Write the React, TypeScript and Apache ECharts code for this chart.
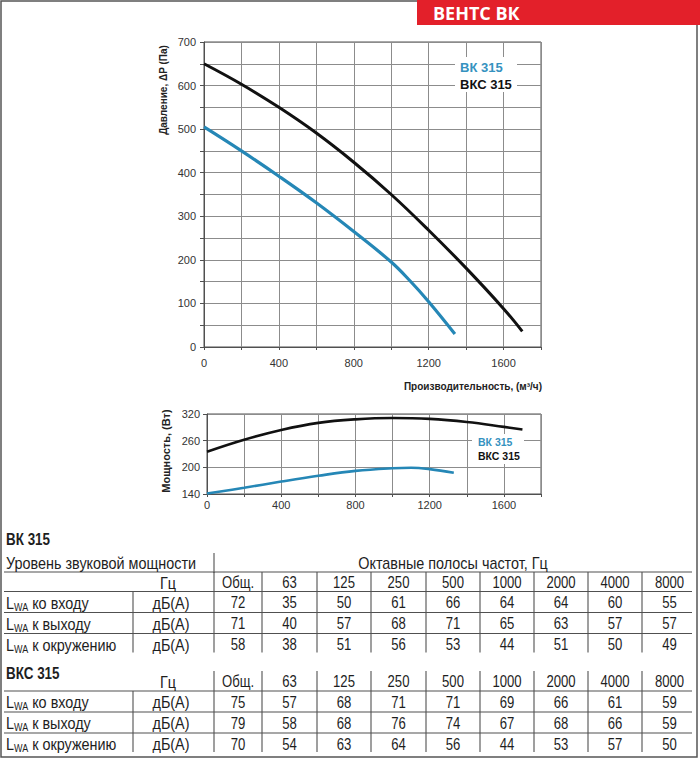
import React, { useEffect, useRef } from 'react';
import * as echarts from 'echarts';

// ---------- data ----------
const flowBKPressure = [0, 200, 400, 600, 800, 1000, 1100, 1200, 1340];
const bkPressure = [505, 450, 392, 331, 265, 195, 152, 104, 30];
const flowBKCPressure = [0, 200, 400, 600, 800, 1000, 1200, 1400, 1600, 1700];
const bkcPressure = [650, 603, 550, 491, 424, 350, 268, 181, 88, 36];

const flowBKPower = [0, 200, 400, 600, 800, 1000, 1100, 1200, 1330];
const bkPower = [141, 154, 168, 181, 192, 198, 199, 196, 188];
const flowBKCPower = [0, 200, 400, 600, 800, 1000, 1200, 1400, 1600, 1700];
const bkcPower = [235, 262, 284, 300, 308, 311, 309, 302, 291, 285];

const seriesNames = ['ВК 315', 'ВКС 315'];
const bands = ['Общ.', '63', '125', '250', '500', '1000', '2000', '4000', '8000'];
const rowLabels = ['ко входу', 'к выходу', 'к окружению'];
const bkSound = [
  [72, 35, 50, 61, 66, 64, 64, 60, 55],
  [71, 40, 57, 68, 71, 65, 63, 57, 57],
  [58, 38, 51, 56, 53, 44, 51, 50, 49],
];
const bkcSound = [
  [75, 57, 68, 71, 71, 69, 66, 61, 59],
  [79, 58, 68, 76, 74, 67, 68, 66, 59],
  [70, 54, 63, 64, 56, 44, 53, 57, 50],
];

// ---------- styles ----------
const BLUE = '#2587b6';
const BLUE_TXT = '#3592c0';
const CHART_FONT = '"Liberation Sans", Arial, sans-serif';
const TABLE_FONT = '"Liberation Sans", Arial, sans-serif';
const NARROW = 0.82;
const NARROW_CYR = 0.9;
const LINE = '#505050';
const GRIDLINE = '#8c8c8c';

const colBounds = [214, 262, 317, 371, 426, 480, 534, 588, 642, 697];

const zip = (xs: number[], ys: number[]) => xs.map((x, i) => [x, ys[i]]);

function ln(x1: number, y1: number, x2: number, y2: number, w = 1.1) {
  return { type: 'line', silent: true, shape: { x1, y1, x2, y2 }, style: { stroke: LINE, lineWidth: w }, z: 40 };
}
function tx(text: string, x: number, y: number, opts: any = {}) {
  const sx = opts.scaleX != null ? opts.scaleX : 1;
  return {
    type: 'text',
    silent: true,
    x,
    y,
    scaleX: sx,
    style: {
      text,
      fill: opts.fill || '#1e1e1e',
      font: `${opts.weight || 'normal'} ${opts.size || 16}px ${opts.family || TABLE_FONT}`,
      align: opts.align || 'left',
      verticalAlign: 'middle',
      ...(opts.rich ? { rich: opts.rich } : {}),
    },
    rotation: opts.rotation || 0,
    z: 50,
  };
}
const tt = (text: string, x: number, y: number, opts: any = {}) => tx(text, x, y, { scaleX: NARROW, ...opts });
const tc = (text: string, x: number, y: number, opts: any = {}) => tx(text, x, y, { scaleX: NARROW_CYR, ...opts });

function tableBlock(values: number[][], hzTop: number, hzBottom: number, rowH: number) {
  const els: any[] = [];
  const hzMid = (hzTop + hzBottom) / 2 + 1;
  const dataBottom = hzBottom + rowH * values.length;
  els.push(tc('Гц', 168, hzMid, { align: 'center' }));
  bands.forEach((b, i) => {
    els.push(tt(b, (colBounds[i] + colBounds[i + 1]) / 2, hzMid, { align: 'center' }));
  });
  for (let i = 0; i < colBounds.length - 1; i++) {
    els.push(ln(colBounds[i], hzTop, colBounds[i], dataBottom - 2));
  }
  els.push(ln(133, hzBottom, 133, dataBottom - 2));
  els.push(ln(4, hzBottom, 692, hzBottom));
  for (let r = 0; r < values.length - 1; r++) {
    const y = hzBottom + rowH * (r + 1);
    els.push(ln(4, y, 692, y));
  }
  values.forEach((row, r) => {
    const yc = hzBottom + rowH * r + rowH / 2 + 1;
    els.push(
      tc(`{m|L}{s|WA}{m| ${rowLabels[r]}}`, 6, yc, {
        rich: {
          m: { fontSize: 16, fontFamily: TABLE_FONT, fill: '#1e1e1e', lineHeight: 20, verticalAlign: 'middle' },
          s: { fontSize: 10, fontFamily: TABLE_FONT, fill: '#1e1e1e', lineHeight: 10, verticalAlign: 'bottom', padding: [0, 0, 1, 0] },
        },
      })
    );
    els.push(tc('дБ(А)', 171, yc, { align: 'center' }));
    row.forEach((v, i) => {
      els.push(tt(String(v), (colBounds[i] + colBounds[i + 1]) / 2, yc, { align: 'center' }));
    });
  });
  return els;
}

function buildGraphic() {
  const els: any[] = [];
  els.push({ type: 'rect', silent: true, shape: { x: 1, y: 1, width: 696, height: 756 }, style: { fill: 'none', stroke: '#555', lineWidth: 1.5 }, z: 40 });
  els.push({ type: 'rect', silent: true, shape: { x: 417, y: 0, width: 283, height: 25 }, style: { fill: '#e3202a' }, z: 45 });
  els.push(tx('ВЕНТС ВК', 433, 13, { fill: '#fff', weight: 'bold', size: 18, family: '"Open Sans", sans-serif' }));

  els.push(tx('Давление, ΔP (Па)', 163, 90, { weight: 'bold', size: 10, family: CHART_FONT, rotation: Math.PI / 2, align: 'center', fill: '#222' }));
  els.push(tx('Производительность, (м³/ч)', 542, 386, { weight: 'bold', size: 10, family: CHART_FONT, align: 'right', fill: '#222' }));
  els.push(tx('Мощность, (Вт)', 166, 451, { weight: 'bold', size: 11, family: CHART_FONT, rotation: Math.PI / 2, align: 'center', fill: '#222' }));

  els.push({ type: 'rect', silent: true, shape: { x: 455, y: 57, width: 62, height: 35 }, style: { fill: '#fff' }, z: 45 });
  els.push(tx(seriesNames[0], 460, 67, { weight: 'bold', size: 13, family: CHART_FONT, fill: BLUE_TXT }));
  els.push(tx(seriesNames[1], 460, 84, { weight: 'bold', size: 13, family: CHART_FONT, fill: '#111' }));
  els.push({ type: 'rect', silent: true, shape: { x: 472, y: 434, width: 52, height: 30 }, style: { fill: '#fff' }, z: 45 });
  els.push(tx(seriesNames[0], 478, 442, { weight: 'bold', size: 10.5, family: CHART_FONT, fill: BLUE_TXT }));
  els.push(tx(seriesNames[1], 478, 456, { weight: 'bold', size: 10.5, family: CHART_FONT, fill: '#111' }));

  els.push(tx('ВК 315', 6, 540, { weight: 'bold', size: 16, scaleX: 0.84 }));
  els.push(tc('Уровень звуковой мощности', 6, 563, {}));
  els.push(tc('Октавные полосы частот, Гц', 453, 563, { align: 'center' }));
  els.push(ln(214, 553, 214, 573));
  els.push(ln(4, 572, 692, 572));
  els.push(...tableBlock(bkSound, 572, 591.5, 21));

  els.push(tx('ВКС 315', 6, 674, { weight: 'bold', size: 16, scaleX: 0.84 }));
  els.push(...tableBlock(bkcSound, 671, 691, 21));
  return els;
}

function xAxisCfg(gridIndex: number, margin: number, size: number) {
  return {
    type: 'value',
    gridIndex,
    min: 0,
    max: 1800,
    interval: 200,
    axisLine: { show: true, lineStyle: { color: LINE, width: 1 } },
    axisTick: { show: true, length: 3, lineStyle: { color: LINE } },
    axisLabel: {
      formatter: (v: number) => (v % 400 === 0 && v < 1800 ? String(v) : ''),
      color: '#333',
      fontSize: size,
      fontFamily: CHART_FONT,
      margin,
    },
    splitLine: { show: true, lineStyle: { color: GRIDLINE, width: 1 } },
  };
}

export default function App() {
  const ref = useRef<HTMLDivElement>(null);
  useEffect(() => {
    if (!ref.current) return;
    const chart = echarts.init(ref.current, null, { renderer: 'svg' });
    chart.setOption({
      animation: false,
      backgroundColor: '#fff',
      grid: [
        { left: 204, top: 42, width: 337, height: 305, show: true, borderColor: LINE, borderWidth: 1, backgroundColor: 'transparent' },
        { left: 207, top: 414, width: 334, height: 80, show: true, borderColor: LINE, borderWidth: 1, backgroundColor: 'transparent' },
      ],
      xAxis: [xAxisCfg(0, 10, 11), xAxisCfg(1, 5, 11)],
      yAxis: [
        {
          type: 'value',
          gridIndex: 0,
          min: 0,
          max: 700,
          interval: 50,
          axisLine: { show: true, lineStyle: { color: LINE } },
          axisTick: { show: true, length: 4, lineStyle: { color: LINE } },
          axisLabel: {
            formatter: (v: number) => (v % 100 === 0 ? String(v) : ''),
            color: '#333',
            fontSize: 11,
            fontFamily: CHART_FONT,
            margin: 8,
          },
          splitLine: { show: true, lineStyle: { color: GRIDLINE, width: 1 } },
        },
        {
          type: 'value',
          gridIndex: 1,
          min: 140,
          max: 320,
          interval: 60,
          axisLine: { show: true, lineStyle: { color: LINE } },
          axisTick: { show: true, length: 4, lineStyle: { color: LINE } },
          axisLabel: { color: '#333', fontSize: 11, fontFamily: CHART_FONT, margin: 7 },
          splitLine: { show: true, lineStyle: { color: GRIDLINE, width: 1 } },
        },
      ],
      series: [
        {
          name: seriesNames[0], type: 'line', xAxisIndex: 0, yAxisIndex: 0, smooth: 0.4, showSymbol: false,
          data: zip(flowBKPressure, bkPressure), lineStyle: { color: BLUE, width: 3.2 }, itemStyle: { color: BLUE }, z: 5,
        },
        {
          name: seriesNames[1], type: 'line', xAxisIndex: 0, yAxisIndex: 0, smooth: 0.4, showSymbol: false,
          data: zip(flowBKCPressure, bkcPressure), lineStyle: { color: '#111', width: 3 }, itemStyle: { color: '#111' }, z: 5,
        },
        {
          name: seriesNames[0], type: 'line', xAxisIndex: 1, yAxisIndex: 1, smooth: 0.4, showSymbol: false,
          data: zip(flowBKPower, bkPower), lineStyle: { color: BLUE, width: 2.6 }, itemStyle: { color: BLUE }, z: 5,
        },
        {
          name: seriesNames[1], type: 'line', xAxisIndex: 1, yAxisIndex: 1, smooth: 0.4, showSymbol: false,
          data: zip(flowBKCPower, bkcPower), lineStyle: { color: '#111', width: 2.6 }, itemStyle: { color: '#111' }, z: 5,
        },
      ],
      graphic: { elements: buildGraphic() },
    });
    return () => chart.dispose();
  }, []);
  return <div ref={ref} style={{ position: 'fixed', left: 0, top: 0, width: 700, height: 760 }} />;
}
